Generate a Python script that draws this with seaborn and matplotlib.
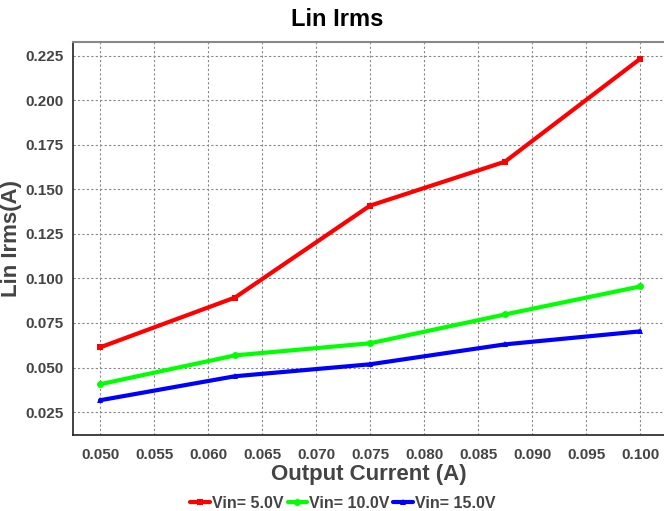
import matplotlib
matplotlib.use("Agg")
import matplotlib.pyplot as plt
import seaborn as sns
import pandas as pd
import numpy as np

x_vals = [0.05, 0.0625, 0.075, 0.0875, 0.1]
red_vals = [0.0613, 0.0893, 0.1409, 0.1656, 0.2233]
green_vals = [0.0406, 0.0568, 0.0636, 0.0798, 0.0955]
blue_vals = [0.0316, 0.0451, 0.0518, 0.0630, 0.0703]
series_names = ["Vin= 5.0V", "Vin= 10.0V", "Vin= 15.0V"]
xticks = [0.05, 0.055, 0.06, 0.065, 0.07, 0.075, 0.08, 0.085, 0.09, 0.095, 0.1]
yticks = [0.025, 0.05, 0.075, 0.1, 0.125, 0.15, 0.175, 0.2, 0.225]

df = pd.DataFrame({
    "x": x_vals * 3,
    "y": red_vals + green_vals + blue_vals,
    "s": [series_names[0]] * 5 + [series_names[1]] * 5 + [series_names[2]] * 5,
})

sns.set_style("white")
plt.rcParams["font.family"] = ["Liberation Sans", "DejaVu Sans"]

W, H = 664, 511
fig = plt.figure(figsize=(W / 100, H / 100), dpi=100)
ax = fig.add_axes([73 / W, 1 - 435 / H, (W - 73) / W, (435 - 42) / H])

palette = {series_names[0]: "#ff0000", series_names[1]: "#00ff00", series_names[2]: "#0000ff"}
markers = {series_names[0]: "s", series_names[1]: "o", series_names[2]: "^"}
sns.lineplot(data=df, x="x", y="y", hue="s", style="s", palette=palette,
             markers=markers, dashes=False, lw=3.0, markersize=5,
             markeredgewidth=0, ax=ax, legend=True)

ax.set_xlim(0.0475, 0.10222)
ax.set_ylim(0.0121, 0.2328)
ax.set_xticks(xticks)
ax.set_yticks(yticks)
ax.set_xticklabels([f"{v:.3f}" for v in xticks])
ax.set_yticklabels([f"{v:.3f}" for v in yticks])
ax.grid(True, color="#888888", linestyle=(0, (2, 2)), linewidth=0.8)
ax.tick_params(axis="y", length=0, labelsize=11, labelcolor="#444444", pad=6.5)
ax.tick_params(axis="x", length=0, labelsize=11, labelcolor="#444444", pad=9)
for lab in ax.get_xticklabels() + ax.get_yticklabels():
    lab.set_fontweight("bold")

ax.spines["right"].set_visible(False)
ax.spines["top"].set_color("#888888")
ax.spines["top"].set_linewidth(1.5)
for s in ("left", "bottom"):
    ax.spines[s].set_color("#222222")
    ax.spines[s].set_linewidth(1.2)

ax.set_xlabel("Output Current (A)", fontsize=16, fontweight="bold", color="#444444")
ax.xaxis.set_label_coords(0.5, -(474 - 435) / (435 - 42))
ax.xaxis.label.set_va("center")
ax.set_ylabel("Lin Irms(A)", fontsize=16, fontweight="bold", color="#444444")
ax.yaxis.set_label_coords((12 - 73) / (W - 73), 0.5)
ax.yaxis.label.set_va("center")
fig.text(337 / W, 1 - 20 / H, "Lin Irms", ha="center", va="center",
         fontsize=17, fontweight="bold", color="#000000")

handles, labels = ax.get_legend_handles_labels()
leg = ax.legend(handles, labels, loc="center", ncol=3, frameon=False,
                fontsize=11.5, handlelength=1.2, handletextpad=0.15, columnspacing=0.25,
                borderaxespad=0, borderpad=0)
leg.set_bbox_to_anchor((343 / W, 1 - 503 / H), transform=fig.transFigure)
for t in leg.get_texts():
    t.set_fontweight("bold")
    t.set_color("#444444")

fig.savefig("out.png", dpi=100)
